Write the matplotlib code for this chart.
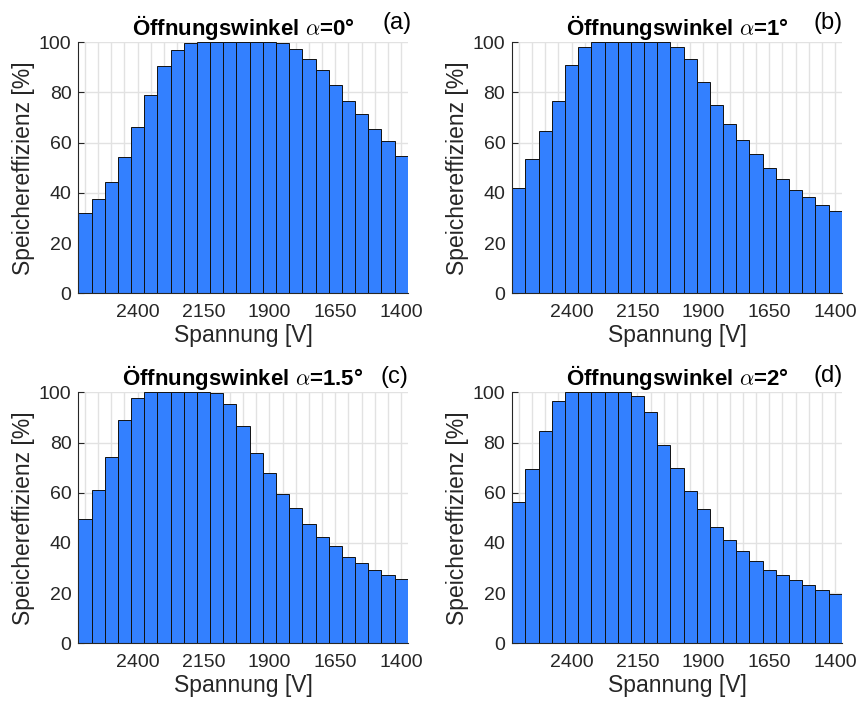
import numpy as np
import matplotlib
matplotlib.use("Agg")
import matplotlib.pyplot as plt
from matplotlib.ticker import MultipleLocator

plt.rcParams['font.family'] = ['Liberation Sans', 'DejaVu Sans']
plt.rcParams['mathtext.fontset'] = 'cm'

# Spannung [V] (bar centres, 50 V steps)
voltage = np.arange(2600, 1350, -50)

eff_0 = [32.0, 37.5, 44.2, 54.2, 66.1, 78.8, 90.4, 96.9, 99.6, 100, 100, 100, 100,
         100, 100, 99.6, 97.5, 93.5, 88.8, 82.9, 76.5, 71.3, 65.6, 60.6, 54.8]
eff_1 = [42.1, 53.4, 64.5, 76.5, 90.8, 98.0, 100, 100, 100, 100, 100, 100, 98.1,
         93.2, 84.1, 74.9, 67.6, 61.0, 55.5, 50.1, 45.4, 41.0, 38.4, 35.1, 32.7]
eff_15 = [49.4, 61.0, 74.1, 89.0, 97.7, 100, 100, 100, 100, 100, 99.6, 95.2, 86.5,
          75.7, 67.7, 59.5, 53.8, 47.4, 42.4, 38.8, 34.5, 31.9, 29.1, 27.1, 25.5]
eff_2 = [56.4, 69.3, 84.5, 96.4, 100, 100, 100, 100, 100, 98.4, 92.0, 78.9, 69.9,
         60.8, 53.7, 46.3, 41.3, 36.8, 32.7, 29.3, 27.1, 25.1, 23.1, 21.1, 19.5]

series = [eff_0, eff_1, eff_15, eff_2]
angles = ["0", "1", "1.5", "2"]
tags = ["(a)", "(b)", "(c)", "(d)"]

# axes rectangles in figure fractions
lefts = [0.0912, 0.5964, 0.0912, 0.5964]
bottoms = [0.5846, 0.5846, 0.0888, 0.0888]
w, h = 0.3835, 0.3555
tag_x = [0.968, 0.958, 0.960, 0.958]
tag_y = [1.077, 1.077, 1.062, 1.065]

fig = plt.figure(figsize=(8.59, 7.06), dpi=100)

for i in range(4):
    ax = fig.add_axes([lefts[i], bottoms[i], w, h])
    ax.bar(voltage, series[i], width=50, color='#3380ff', edgecolor='#111111',
           linewidth=0.7, zorder=2)
    ax.set_xlim(2625, 1375)
    ax.set_ylim(0, 100)
    ax.set_xticks([2400, 2150, 1900, 1650, 1400])
    ax.xaxis.set_minor_locator(MultipleLocator(50))
    ax.set_yticks(np.arange(0, 101, 20))
    ax.grid(True, which='both', axis='x', color='#e2e2e2', linewidth=1, zorder=0)
    ax.grid(True, which='major', axis='y', color='#e2e2e2', linewidth=1, zorder=0)
    ax.set_axisbelow(True)
    for s in ['top', 'right']:
        ax.spines[s].set_visible(False)
    for s in ['left', 'bottom']:
        ax.spines[s].set_color('#262626')
        ax.spines[s].set_linewidth(0.8)
    ax.tick_params(axis='both', which='major', direction='in', length=4,
                   labelsize=14, colors='#262626', width=0.8)
    ax.tick_params(axis='x', which='major', pad=8)
    ax.tick_params(axis='y', which='major', pad=5)
    ax.tick_params(axis='x', which='minor', length=0)
    ax.set_xlabel("Spannung [V]", fontsize=16.5, color='#262626', labelpad=2)
    ax.set_ylabel("Speichereffizienz [%]", fontsize=16.5, color='#262626', labelpad=3)
    ax.set_title(r"Öffnungswinkel $\alpha$=" + angles[i] + "°", fontsize=16,
                 fontweight='bold', pad=4)
    ax.text(tag_x[i], tag_y[i], tags[i], transform=ax.transAxes, ha='center',
            va='center', fontsize=17)

fig.savefig("out.png", dpi=100)
plt.close(fig)
